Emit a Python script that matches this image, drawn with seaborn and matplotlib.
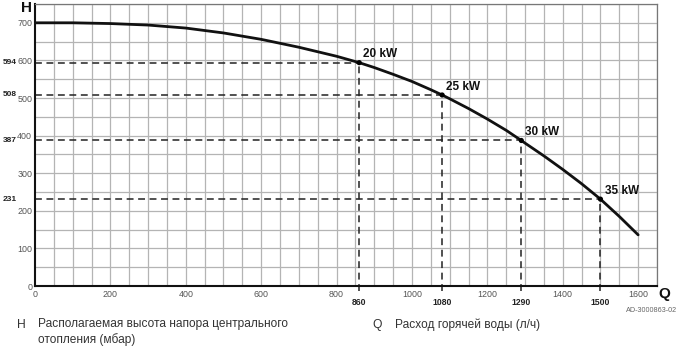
import matplotlib
matplotlib.use("Agg")
import matplotlib.pyplot as plt
import seaborn as sns
import pandas as pd
import numpy as np

# Pump curve: available head H (mbar) vs hot-water flow Q (l/h)
flow = [0, 100, 200, 300, 400, 500, 600, 700, 800, 860, 900, 950, 1000,
        1050, 1080, 1100, 1150, 1200, 1250, 1290, 1300, 1350, 1400, 1450,
        1500, 1550, 1600]
head = [700, 700, 698, 694, 686, 673, 656, 635, 611, 594, 581, 563, 544,
        522, 508, 498, 472, 444, 414, 387, 380, 346, 310, 272,
        231, 185, 136]

# Boiler output points on the curve
power_labels = ["20 kW", "25 kW", "30 kW", "35 kW"]
power_flow = [860, 1080, 1290, 1500]
power_head = [594, 508, 387, 231]

x_ticks = [0, 200, 400, 600, 800, 1000, 1200, 1400, 1600]
y_ticks = [0, 100, 200, 300, 400, 500, 600, 700]

sns.set_theme(style="white")
plt.rcParams["font.family"] = ["Liberation Sans", "DejaVu Sans"]

fig = plt.figure(figsize=(6.8, 3.46), dpi=100)
ax = fig.add_axes([35 / 680, 60 / 346, 622 / 680, 282 / 346])

curve = pd.DataFrame({"Q": flow, "H": head})
pts = pd.DataFrame({"Q": power_flow, "H": power_head, "label": power_labels})

ax.set_xlim(0, 1650)
ax.set_ylim(0, 750)

# Grid every 50 units in both directions
for gx in np.arange(50, 1651, 50):
    ax.axvline(gx, color="#b4b4b4", lw=0.9, zorder=0)
for gy in np.arange(50, 751, 50):
    ax.axhline(gy, color="#b4b4b4", lw=0.9, zorder=0)

# Dashed guides from each power point to the axes
for q, h in zip(power_flow, power_head):
    ax.plot([0, q], [h, h], color="#222222", lw=1.1, ls=(0, (4.5, 3)), zorder=2,
            clip_on=False)
    ax.plot([q, q], [-12, h], color="#222222", lw=1.1, ls=(0, (4.5, 3)), zorder=2,
            clip_on=False)

sns.lineplot(data=curve, x="Q", y="H", ax=ax, color="#111111", lw=2.0,
             zorder=3, legend=False)
sns.scatterplot(data=pts, x="Q", y="H", ax=ax, color="#000000", s=14,
                zorder=4, edgecolor="none", legend=False)

for lab, q, h in zip(power_labels, power_flow, power_head):
    ax.annotate(lab, (q, h), xytext=(3, 6), textcoords="offset points",
                fontsize=8.5, fontweight="bold", color="#111111",
                ha="left", va="center")

# Axes frame
for side in ("left", "bottom"):
    ax.spines[side].set_color("#111111")
    ax.spines[side].set_linewidth(1.5)
for side in ("top", "right"):
    ax.spines[side].set_color("#777777")
    ax.spines[side].set_linewidth(0.9)

ax.set_xticks(x_ticks)
ax.set_yticks(y_ticks)
ax.set_xticklabels([str(v) for v in x_ticks])
ax.set_yticklabels([str(v) for v in y_ticks])
ax.tick_params(axis="both", length=0, labelsize=6.4, labelcolor="#555555")
ax.tick_params(axis="x", pad=3)
ax.tick_params(axis="y", pad=2)
ax.set_xlabel("")
ax.set_ylabel("")

# Values of the power points next to the axes
for q in power_flow:
    ax.text(q, -0.057, str(q), transform=ax.get_xaxis_transform(),
            ha="center", va="center", fontsize=6.2, fontweight="bold",
            color="#222222")
for h in power_head:
    ax.text(-0.04, h, str(h), transform=ax.get_yaxis_transform(),
            ha="center", va="center", fontsize=6.0, fontweight="bold",
            color="#222222")

# Axis letters
fig.text(27 / 680, 1 - 8 / 346, "H", fontsize=11, fontweight="bold",
         color="#111111", ha="center", va="center")
fig.text(664 / 680, 1 - 294 / 346, "Q", fontsize=11, fontweight="bold",
         color="#111111", ha="center", va="center")

fig.text(677 / 680, 1 - 310 / 346, "AD-3000863-02", fontsize=5.2,
         color="#666666", ha="right", va="center")

# Legend of symbols
fig.text(21 / 680, 1 - 325 / 346, "H", fontsize=8.7, color="#333333",
         ha="center", va="center")
fig.text(38 / 680, 1 - 332 / 346,
         "Располагаемая высота напора центрального\nотопления (мбар)",
         fontsize=8.6, color="#333333", ha="left", va="center", linespacing=1.35)
fig.text(377 / 680, 1 - 325 / 346, "Q", fontsize=8.7, color="#333333",
         ha="center", va="center")
fig.text(395 / 680, 1 - 325 / 346, "Расход горячей воды (л/ч)",
         fontsize=8.6, color="#333333", ha="left", va="center")

fig.savefig("out.png", dpi=100)
